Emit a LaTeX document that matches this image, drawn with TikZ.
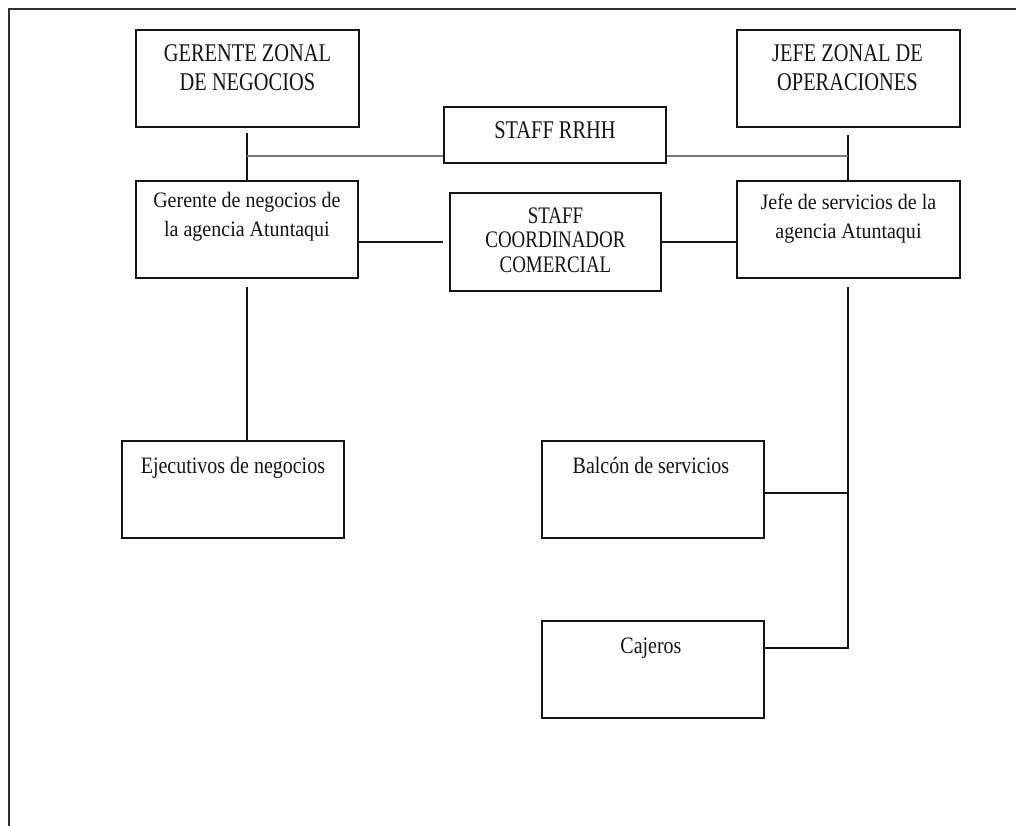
\documentclass[tikz,border=0pt]{standalone}
\usepackage{fontspec}
\setmainfont{Liberation Serif}
\newfontfamily\titlefont[FakeStretch=0.8]{Liberation Serif}
\newfontfamily\bodyfont[FakeStretch=0.91]{Liberation Serif}
\newfontfamily\lowfont[FakeStretch=0.85]{Liberation Serif}
\usetikzlibrary{calc}
\definecolor{ink}{HTML}{141414}
\definecolor{frame}{HTML}{2E2E2E}
\definecolor{staffline}{HTML}{7A7A7A}

\tikzset{
  unit/.style={draw=ink, line width=1.9pt, anchor=north west, inner sep=0pt},
  lbl/.style={anchor=base, inner sep=0pt, text=ink},
  upper/.style={lbl, font=\titlefont\fontsize{25.5}{29}\selectfont},
  staffbig/.style={lbl, font=\titlefont\fontsize{23.7}{24.5}\selectfont},
  mixed/.style={lbl, font=\bodyfont\fontsize{22}{28.5}\selectfont},
  lower/.style={lbl, font=\lowfont\fontsize{23.5}{28}\selectfont},
  link/.style={draw=ink, line width=1.9pt},
  stafflink/.style={draw=staffline, line width=1.6pt}
}

\begin{document}
\begin{tikzpicture}[x=1pt, y=-1pt]
\useasboundingbox (0,0) rectangle (1016,826);

% page frame (top and left edges only)
\draw[frame, line width=2pt] (1016,9) -- (9,9) -- (9,826);

% boxes
\node[unit, minimum width=223pt, minimum height=97pt] (gzn)   at (135,29)  {};
\node[unit, minimum width=223pt, minimum height=97pt] (jzo)   at (736,29)  {};
\node[unit, minimum width=222pt, minimum height=56pt] (rrhh)  at (443,106) {};
\node[unit, minimum width=222pt, minimum height=97pt] (ger)   at (135,180) {};
\node[unit, minimum width=211pt, minimum height=98pt] (coord) at (449,192) {};
\node[unit, minimum width=223pt, minimum height=97pt] (jefe)  at (736,180) {};
\node[unit, minimum width=222pt, minimum height=97pt] (eje)   at (121,440) {};
\node[unit, minimum width=222pt, minimum height=97pt] (bal)   at (541,440) {};
\node[unit, minimum width=222pt, minimum height=97pt] (caj)   at (541,620) {};

% box texts
\node[upper] (tgzn) at ([yshift=-33pt]gzn.north)
  {\begin{tabular}[t]{@{}c@{}}GERENTE ZONAL\\DE NEGOCIOS\end{tabular}};
\node[upper] (tjzo) at ([yshift=-33pt,xshift=-1pt]jzo.north)
  {\begin{tabular}[t]{@{}c@{}}JEFE ZONAL DE\\OPERACIONES\end{tabular}};
\node[upper] (trrhh) at ([yshift=-33pt]rrhh.north) {STAFF RRHH};
\node[staffbig] (tcoord) at ([yshift=-31pt]coord.north)
  {\begin{tabular}[t]{@{}c@{}}STAFF\\COORDINADOR\\COMERCIAL\end{tabular}};
\node[mixed] (tger) at ([yshift=-28pt]ger.north)
  {\begin{tabular}[t]{@{}c@{}}Gerente de negocios de\\la agencia Atuntaqui\end{tabular}};
\node[mixed] (tjefe) at ([yshift=-30pt]jefe.north)
  {\begin{tabular}[t]{@{}c@{}}Jefe de servicios de la\\agencia Atuntaqui\end{tabular}};
\node[lower] (teje) at ([yshift=-33pt]eje.north) {Ejecutivos de negocios};
\node[lower] (tbal) at ([yshift=-33pt,xshift=-2pt]bal.north) {Balcón de servicios};
\node[lower] (tcaj) at ([yshift=-33pt,xshift=-2pt]caj.north) {Cajeros};

% junction points
\coordinate (lj) at (247,156);
\coordinate (rj) at (848,156);
\coordinate (bj) at (848,493);
\coordinate (cj) at (848,648);

% zonal heads down to agency heads
\path[link] ([yshift=-5pt]gzn.south -| lj) -- (lj |- ger.north);
\path[link] ([yshift=-7pt]jzo.south -| rj) -- (rj |- jefe.north);

% staff RRHH line
\path[stafflink] (lj) -- (lj -| rrhh.west);
\path[stafflink] (rj -| rrhh.east) -- (rj);

% staff coordinador comercial
\path[link] (coord.west -| ger.east) -- ([xshift=-6pt]coord.west);
\path[link] (coord.east) -- (coord.east -| jefe.west);

% business branch
\path[link] ([yshift=-8pt]ger.south -| lj) -- (lj |- eje.north);

% services branch
\path[link] ([yshift=-8pt]jefe.south -| rj) -- (cj) -- (cj -| caj.east);
\path[link] (bj) -- (bj -| bal.east);
\end{tikzpicture}
\end{document}
